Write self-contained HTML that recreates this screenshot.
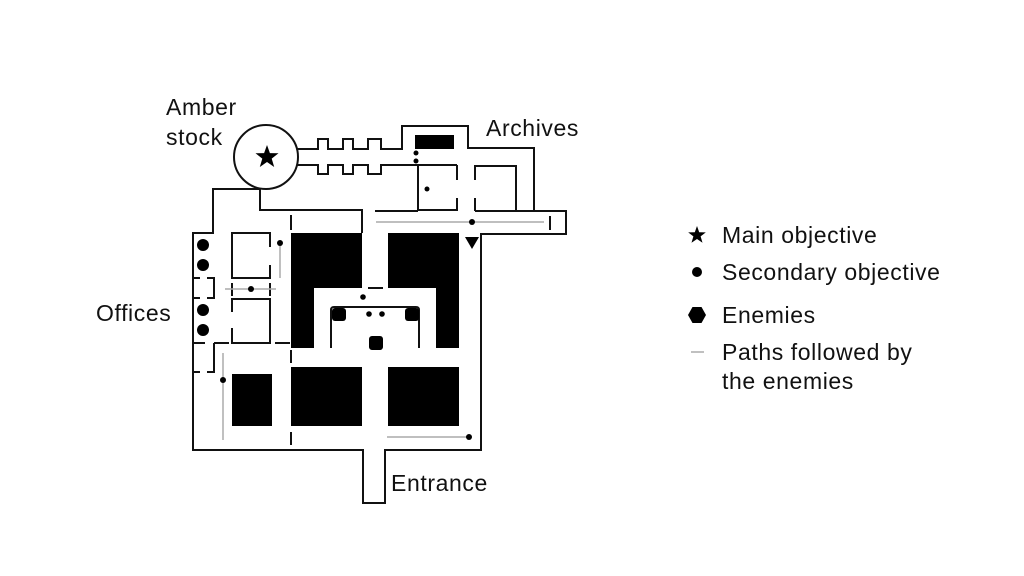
<!DOCTYPE html>
<html><head><style>
html,body{margin:0;padding:0;background:#fff;}
svg{display:block;}
text{font-family:"Liberation Sans",sans-serif;font-size:23px;letter-spacing:0.6px;fill:#111;}
</style></head><body>
<svg width="1024" height="576" viewBox="0 0 1024 576" xmlns="http://www.w3.org/2000/svg">
<rect width="1024" height="576" fill="#fff"/>
<g fill="none" stroke="#111" stroke-width="2">
<path d="M297,149 H318 V139 H328 V149 H343 V139 H353 V149 H368 V139 H381 V149 H402 V126 H468 V148 H534 V211 H566 V234 H481 V450 H385 V503 H363 V450 H193 V233 H213 V189 H260"/>
<path d="M297,165 H318 V174 H328 V165 H343 V174 H353 V165 H368 V174 H381 V165 H418 V210"/>
<circle cx="266" cy="157" r="32" fill="#fff"/>
<path d="M260,189 V210 H362 V233"/>
<path d="M418,210 H457 M457,165 V180 M457,198 V211"/>
<path d="M418,165 H457"/>
<path d="M475,211 V198 M475,180 V166 H516 V211 H475"/>
<path d="M516,211 H534"/>
<path d="M375,211 H418"/>
<path d="M270,247 V233 H232 V278 H270 V265"/>
<path d="M232,283 V296 M270,283 V296"/>
<path d="M232,312 V299 H270 V343 H232 V328"/>
<path d="M193,278 H200 M207,278 H214 V298 H207 M200,298 H193"/>
<path d="M193,343 H205 M214,343 H229 M232,343 H270 M275,343 H290"/>
<path d="M214,343 V372 H207 M200,372 H193"/>
<path d="M291,215 V230 M291,350 V363 M291,432 V445"/>
<path d="M331,348 V310 Q331,307 334,307 H416 Q419,307 419,310 V348"/>
<path d="M368,288 H383"/>
</g>
<g fill="#000">
<rect x="415" y="135" width="39" height="14"/>
<rect x="291" y="233" width="71" height="55"/>
<rect x="291" y="233" width="23" height="115"/>
<rect x="388" y="233" width="71" height="55"/>
<rect x="436" y="233" width="23" height="115"/>
<rect x="332" y="308" width="14" height="13" rx="3"/>
<rect x="405" y="308" width="14" height="13" rx="3"/>
<rect x="369" y="336" width="14" height="14" rx="3"/>
<rect x="291" y="367" width="71" height="59"/>
<rect x="388" y="367" width="71" height="59"/>
<rect x="232" y="374" width="40" height="52"/>
</g>
<g stroke="#aaa" stroke-width="1.5" fill="none">
<path d="M376,222 H544"/>
<path d="M280,243 V278"/>
<path d="M225,289 H276"/>
<path d="M223,353 V440"/>
<path d="M387,437 H469"/>
</g>
<path d="M550,216 V230" stroke="#111" stroke-width="2"/>
<g fill="#000">
<circle cx="472" cy="222" r="3"/>
<circle cx="280" cy="243" r="3"/>
<circle cx="251" cy="289" r="3"/>
<circle cx="223" cy="380" r="3"/>
<circle cx="469" cy="437" r="3"/>
<circle cx="416" cy="153" r="2.5"/>
<circle cx="416" cy="161" r="2.5"/>
<circle cx="427" cy="189" r="2.5"/>
<circle cx="363" cy="297" r="2.8"/>
<circle cx="369" cy="314" r="2.8"/>
<circle cx="382" cy="314" r="2.8"/>
<circle cx="203" cy="245" r="6"/>
<circle cx="203" cy="265" r="6"/>
<circle cx="203" cy="310" r="6"/>
<circle cx="203" cy="330" r="6"/>
<polygon points="465,237 479,237 472,249"/>
<polygon points="267,145 269.9,153.1 278.5,153.3 271.7,158.6 274.2,167 267,162 259.8,167 262.3,158.6 255.5,153.3 264.1,153.1"/>
<polygon points="697,226 699.2,232.2 705.8,232.4 700.6,236.4 702.5,242.8 697,239 691.5,242.8 693.4,236.4 688.2,232.4 694.8,232.2"/>
<circle cx="697" cy="272" r="5"/>
<polygon points="692.5,307 701.5,307 706,315 701.5,323 692.5,323 688,315"/>
</g>
<path d="M691,352 H704" stroke="#aaa" stroke-width="1.5"/>
<text x="722" y="243">Main objective</text>
<text x="722" y="280">Secondary objective</text>
<text x="722" y="323">Enemies</text>
<text x="722" y="360">Paths followed by</text>
<text x="722" y="389">the enemies</text>
<text x="166" y="115">Amber</text>
<text x="166" y="145">stock</text>
<text x="486" y="136">Archives</text>
<text x="96" y="321">Offices</text>
<text x="391" y="491">Entrance</text>
</svg>
</body></html>
